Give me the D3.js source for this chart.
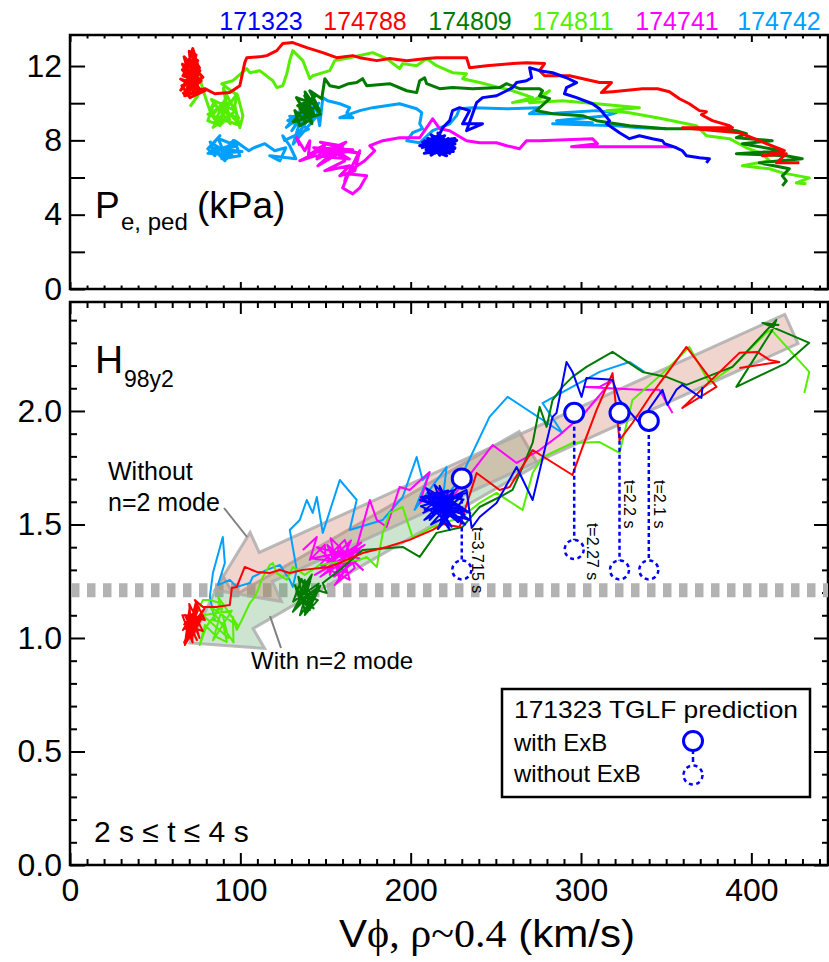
<!DOCTYPE html>
<html><head><meta charset="utf-8">
<script src="https://cdn.jsdelivr.net/npm/d3@7"></script>
<style>body{margin:0;background:#fff}svg{display:block}</style>
</head><body><svg id="c" width="829" height="962"></svg>
<script>
// ---------------- DATA ----------------
const shots = ["171323","174788","174809","174811","174741","174742"];

// top panel: Pe,ped (kPa) vs V_phi (km/s)
const pe171323 = [[206,7.6],[224,8.0],[208,7.3],[222,7.5],[210,8.1],[226,7.8],[207,7.9],[220,7.2],[212,8.3],[225,7.4],[209,7.5],[219,8.2],[214,7.3],[227,8.0],[211,7.7],[223,7.3],[213,8.0],[218,7.4],[216,8.4],[221,7.9],[208,7.8],[224,7.6],[215,7.6],[210,7.4],[222,8.1],[217,7.2],[212,7.9],[226,7.6],[214,8.2],[219,7.6],[217.0,7.44],[208.2,7.98],[222.9,7.71],[211.1,7.33],[219.9,8.25],[205.3,7.71],[225.8,7.55],[214.1,8.09],[221.1,7.17],[210.0,7.55],[224.0,7.98],[212,7.2],[226,8.1],[209,7.9],[220,7.3],[215,8.2],[223,7.5],[213,7.6],[218.8,8.68],[222.9,9.06],[224.6,9.60],[228.7,9.76],[234.6,9.60],[230.5,8.89],[242.2,8.89],[232.8,8.52],[238.7,10.03],[242.2,10.30],[250.4,10.40],[256.3,10.67],[259.8,10.84],[262.2,11.11],[268.0,11.21],[271.0,11.37],[269.8,11.91],[275.7,11.75],[283.3,11.64],[291.5,11.37],[297.4,11.11],[291.5,10.84],[290.3,10.51],[297.4,10.30],[306.7,9.97],[310.9,9.70],[316.7,9.06],[315.0,8.89],[322.6,8.41],[328.4,8.09],[334.3,8.25],[341.9,8.09],[347.8,7.98],[349.0,7.82],[356.0,7.60],[359.5,7.44],[361.9,7.17],[369.5,7.06],[375.4,7.01],[373.6,6.79]];
const pe174788 = [[66,10.5],[74,11.0],[65,11.3],[77,10.6],[68,12.0],[72,11.1],[66,11.8],[75,12.3],[69,10.8],[78,11.4],[67,12.5],[73,10.4],[70,12.8],[76,11.9],[65,10.7],[71,11.6],[74,12.6],[68,10.5],[77,11.2],[66,12.1],[72,10.9],[79.2,10.67],[70.4,10.30],[65.7,10.94],[73.3,11.21],[66.3,11.48],[71.6,12.29],[68.0,11.75],[72.1,12.94],[75.1,12.02],[70.4,10.67],[76.2,11.75],[67.4,10.40],[79.2,10.78],[85.0,10.51],[93.8,10.57],[99.7,10.94],[102.6,12.18],[103.8,12.45],[112.6,12.51],[115.5,12.56],[121.4,12.83],[124.9,13.21],[130.8,13.26],[139.0,12.99],[148.4,12.72],[156.6,12.45],[166.0,12.56],[170.1,12.45],[180.1,12.29],[187.7,12.40],[197.7,12.29],[209.4,12.40],[215.2,12.45],[232.8,12.45],[234.6,11.91],[244.6,12.02],[259.8,12.13],[268.0,12.18],[278.6,12.13],[275.7,11.75],[278.6,11.48],[293.3,11.48],[310.9,11.11],[317.9,11.11],[312.0,10.57],[318.5,10.62],[336.1,10.78],[344.9,10.78],[351.9,10.62],[357.8,10.24],[363.6,9.97],[369.5,9.60],[373.6,9.54],[370.7,9.38],[377.1,9.06],[387.1,8.79],[388.9,8.68],[359.5,8.68],[393.0,8.41],[404.7,7.98],[419.4,7.44],[406.5,7.17],[420.5,7.28],[414.7,6.79],[428.2,6.79]];
const pe174809 = [[136,9.2],[145,9.9],[133,10.3],[142,8.9],[138,10.6],[147,9.4],[131,9.0],[144,10.4],[135,9.7],[141,9.1],[134.9,8.79],[132.0,9.60],[137.8,9.06],[140.8,10.13],[133.7,9.87],[143.7,9.33],[137.8,10.40],[146.6,9.60],[140.8,10.67],[147.8,10.24],[149.6,11.32],[152.5,10.94],[157.8,10.84],[163.6,11.05],[168.3,11.11],[171.8,11.32],[174.2,10.94],[187.7,11.05],[197.7,10.67],[203.5,10.57],[205.3,11.21],[208.2,11.37],[209.4,11.05],[217.0,10.78],[224.6,10.84],[236.4,10.78],[252.2,10.84],[256.3,11.05],[263.9,10.78],[275.7,10.78],[277.4,10.67],[275.7,10.40],[281.5,10.24],[273.9,9.60],[283.3,9.43],[300.9,9.33],[309.1,9.06],[328.4,8.79],[350.1,8.63],[375.4,8.63],[391.2,8.52],[397.1,8.36],[391.2,8.14],[412.3,7.98],[394.7,7.82],[418.2,7.44],[391.2,7.28],[420.5,7.17],[429.9,7.01],[404.7,6.79],[422.3,6.47],[418.2,6.09],[420.5,5.82],[418.2,5.55]];
const pe174811 = [[70.4,9.81],[75.1,10.40],[71.6,11.21],[75.1,12.02],[76.2,11.32],[79.2,10.40],[82.1,9.60],[85.0,10.13],[80.9,9.06],[88.0,8.79],[83.3,9.33],[90.9,10.13],[93.8,9.06],[85,9.0],[92,10.4],[88,8.8],[97,9.6],[83,10.2],[94,8.9],[90,10.8],[99,9.2],[86,9.7],[95,10.1],[81,9.4],[100,8.8],[89,9.9],[93,9.3],[84,8.7],[98,10.5],[96.8,9.87],[99.7,8.68],[101.5,9.33],[98.5,10.40],[89.1,11.05],[95.6,11.21],[103.8,11.86],[105.6,11.64],[111.4,11.75],[119.1,11.21],[121.4,10.84],[124.9,10.94],[127.3,11.59],[129.0,12.29],[130.8,12.83],[136.7,12.29],[139.0,11.75],[140.8,11.32],[142.5,11.48],[152.5,11.75],[155.4,12.29],[164.2,12.45],[177.7,12.72],[185.9,12.40],[193.5,11.86],[195.3,12.13],[203.5,12.02],[209.4,12.40],[215.2,12.02],[224.6,11.64],[232.8,11.59],[230.5,11.32],[240.5,11.11],[252.2,10.84],[259.8,10.67],[271.6,10.30],[259.8,10.03],[275.7,10.24],[281.5,10.67],[269.8,10.03],[289.1,10.13],[309.1,9.97],[334.3,9.76],[315.0,9.60],[328.4,9.49],[347.8,9.16],[367.7,8.79],[373.6,8.25],[387.1,8.09],[397.1,7.60],[406.5,7.28],[410.6,6.90],[394.7,6.63],[410.6,6.47],[418.2,6.25],[434.0,5.98],[426.4,5.71],[432.3,5.66]];
const pe174741 = [[134.9,7.71],[133.1,8.14],[137.8,7.44],[140.8,7.98],[140,7.2],[150,7.8],[145,7.0],[158,7.6],[148,7.3],[162,7.9],[152,7.1],[166,7.5],[143,7.6],[156,7.2],[160,7.7],[147,7.9],[170,7.3],[155,7.5],[164,7.0],[143.7,7.17],[134.9,6.90],[146.6,7.44],[152.5,7.01],[145.5,6.63],[155.4,7.44],[161.3,6.90],[149.6,6.36],[164.2,6.63],[158.4,6.09],[167.2,6.36],[170.1,7.44],[161.3,5.82],[162.5,6.20],[174.2,6.09],[170.1,5.44],[166.0,5.12],[160.1,5.44],[164.2,6.36],[173.0,6.90],[178.9,7.44],[176.0,7.71],[183.6,7.98],[193.5,8.14],[197.7,8.14],[205.3,8.14],[212.9,9.16],[217.0,8.63],[222.9,8.52],[232.8,7.98],[240.5,7.87],[250.4,7.87],[256.3,7.71],[263.9,7.55],[268.0,7.98],[275.7,7.98],[306.7,8.09],[309.7,7.82],[294.4,7.66],[316.7,7.66],[353.7,7.66]];
const pe174742 = [[82.1,7.98],[85.0,7.17],[80.9,7.55],[88.0,8.25],[84,7.8],[95,7.2],[81,7.3],[98,7.7],[87,8.1],[92,7.0],[83,7.6],[101,7.4],[89,7.3],[96,8.0],[90.9,6.90],[85.0,7.44],[93.8,7.71],[89.1,7.01],[99.7,7.17],[96.8,7.98],[105.0,7.44],[107.9,7.60],[114.4,7.82],[120.2,7.44],[126.7,7.60],[123.2,6.90],[117.3,7.17],[132.6,7.01],[129.0,7.71],[124.9,8.25],[126,8.0],[140,8.6],[129,9.3],[144,9.2],[131,7.8],[138,9.9],[127,8.7],[146,10.0],[133,8.2],[142,9.5],[134.9,8.79],[127.9,9.06],[137.8,9.60],[130.2,8.52],[140.8,9.87],[133.7,9.33],[143.7,10.13],[146.6,8.79],[148.4,10.30],[151.3,10.13],[158.4,9.97],[164.2,9.76],[162.5,9.49],[166.0,9.22],[158.4,9.22],[170.1,9.60],[177.7,9.76],[193.5,9.97],[203.5,9.70],[206.5,9.49],[205.3,8.89],[207.0,8.63],[201.2,8.41],[197.7,7.98],[205.3,7.87],[212.9,8.52],[222.9,8.89],[227.0,9.33],[228.7,9.70],[236.4,9.76],[256.3,9.70],[275.7,9.76],[269.8,9.43],[281.5,9.43],[289.1,9.49],[309.1,9.60],[320.8,9.49],[315.0,9.33],[285.6,9.06],[306.7,8.95],[283.3,8.89],[320.8,8.79],[334.3,8.68],[350.1,8.63]];

// bottom panel: H98y2 vs V_phi (km/s)
const h171323 = [[207,1.55],[226,1.62],[212,1.50],[230,1.57],[209,1.66],[224,1.49],[215,1.60],[233,1.64],[206,1.58],[221,1.53],[217,1.67],[228,1.51],[211,1.61],[235,1.55],[219,1.63],[213,1.54],[227,1.66],[208,1.52],[223,1.58],[216,1.48],[231,1.61],[210,1.64],[225,1.55],[214,1.57],[229,1.63],[218,1.51],[222,1.65],[206,1.62],[232,1.50],[220,1.59],[211.1,1.520],[219.9,1.630],[208.2,1.564],[228.7,1.586],[217.0,1.498],[225.8,1.652],[205.3,1.608],[231.7,1.542],[214.1,1.674],[222.9,1.476],[210.0,1.617],[229.9,1.621],[218.2,1.555],[234.6,1.520],[212.3,1.639],[227.6,1.511],[221.1,1.608],[232.8,1.652],[235.8,1.485],[240.5,1.533],[250.4,1.595],[262.2,1.753],[271.6,1.608],[283.3,1.974],[285.6,1.991],[291.5,2.216],[295.0,2.172],[300.3,2.062],[303.2,2.145],[318.5,2.137],[322.6,2.048],[334.3,1.947],[347.8,2.093],[350.7,2.026],[356.0,2.093],[359.5,2.115],[370.7,2.057],[371.3,2.106]];
const h174788 = [[68,1.00],[75,1.12],[67,1.06],[78,1.03],[70,1.15],[72,0.98],[66,1.10],[77,1.09],[69,1.02],[74,1.16],[71,1.05],[79,1.13],[67,0.98],[73,1.08],[76,1.00],[70,1.12],[68,1.04],[75,1.15],[72,1.01],[78,1.10],[67.4,0.969],[70.4,1.145],[69.2,0.991],[73.3,1.123],[66.3,1.035],[76.2,1.101],[70.4,1.057],[74.5,0.991],[67.4,1.101],[79.2,1.079],[73.3,1.167],[78.0,1.137],[86.2,1.137],[93.8,1.145],[95.0,1.220],[97.9,1.225],[102.6,1.313],[109.7,1.291],[117.3,1.286],[123.2,1.300],[129.0,1.286],[136.7,1.300],[152.5,1.313],[171.8,1.374],[185.9,1.401],[199.4,1.432],[212.9,1.476],[218.8,1.502],[228.7,1.489],[238.7,1.727],[252.2,1.652],[258.1,1.665],[271.6,1.828],[295.0,1.718],[300.9,1.841],[309.1,2.004],[318.5,2.167],[322.6,1.872],[330.2,1.947],[341.9,2.079],[361.9,2.282],[379.5,2.106],[359.5,2.013],[393.0,2.256],[403.5,2.260],[410.6,2.225],[416.4,2.216],[393.0,2.189]];
const h174809 = [[133,1.20],[143,1.13],[136,1.26],[131,1.16],[146,1.24],[138,1.11],[134,1.27],[144,1.17],[139,1.22],[132,1.13],[141,1.25],[137,1.15],[145,1.20],[135,1.10],[142,1.28],[136,1.19],[140,1.12],[147,1.23],[134.9,1.167],[132.0,1.233],[140.8,1.123],[137.8,1.256],[133.7,1.145],[143.7,1.211],[130.8,1.115],[141.9,1.278],[134.9,1.203],[145.5,1.167],[137.8,1.101],[144.9,1.211],[150.7,1.198],[148.4,1.242],[158.4,1.300],[171.8,1.388],[195.3,1.401],[205.3,1.357],[215.2,1.463],[230.5,1.489],[240.5,1.577],[252.2,1.621],[259.8,1.652],[265.7,1.753],[271.6,1.859],[275.7,2.018],[279.8,1.930],[283.3,2.048],[289.1,2.106],[295.0,2.150],[303.2,2.194],[318.5,2.260],[336.1,2.172],[350.1,2.150],[361.9,2.115],[388.9,2.194],[414.7,2.401],[412.3,2.357],[391.2,2.106],[420.5,2.211],[434.0,2.300],[406.5,2.388],[416.4,2.379]];
const h174811 = [[70.4,0.991],[73.3,1.093],[78.0,1.167],[82.1,1.167],[88.0,1.154],[83.9,1.079],[89.7,1.066],[92.1,0.982],[86.2,1.004],[79.2,1.057],[76.2,0.969],[80,1.05],[90,1.15],[84,0.99],[95,1.12],[78,1.10],[93,1.00],[87,1.18],[99,1.05],[82,1.14],[96,0.98],[95.6,1.093],[97.9,1.035],[100.9,1.079],[105.6,1.154],[108.5,1.181],[110.3,1.211],[113.2,1.269],[117.3,1.322],[119.1,1.330],[121.4,1.286],[127.3,1.256],[130.8,1.313],[137.8,1.278],[146.6,1.322],[158.4,1.335],[170.1,1.344],[174.2,1.357],[180.1,1.313],[183.6,1.463],[187.7,1.551],[195.3,1.577],[201.2,1.441],[212.9,1.489],[229.9,1.533],[240.5,1.595],[250.4,1.639],[265.7,1.564],[271.6,1.727],[277.4,1.797],[295.0,1.859],[310.9,1.863],[322.6,1.815],[330.2,2.048],[350.1,2.181],[363.6,2.282],[375.4,2.123],[388.9,2.194],[408.8,2.344],[411.7,2.357],[434.0,2.172],[431.1,2.079]];
const h174741 = [[136.7,1.388],[144.9,1.445],[140.8,1.344],[149.6,1.410],[150,1.36],[162,1.29],[145,1.40],[170,1.35],[155,1.27],[165,1.43],[148,1.31],[160,1.38],[172,1.30],[153,1.44],[158,1.26],[168,1.39],[142,1.35],[163,1.33],[151,1.41],[157,1.30],[166,1.36],[147,1.27],[171,1.42],[154,1.34],[152.5,1.278],[158.4,1.410],[164.2,1.256],[146.6,1.322],[161.3,1.432],[167.2,1.308],[155.4,1.233],[170.1,1.388],[143.7,1.278],[173.0,1.410],[158.4,1.335],[168.3,1.401],[176.0,1.608],[180.1,1.520],[185.9,1.489],[193.5,1.665],[199.4,1.652],[211.1,1.731],[205.3,1.595],[217.0,1.652],[224.6,1.621],[234.6,1.718],[248.1,1.850],[262.2,1.771],[275.7,1.828],[287.4,1.894],[302.1,1.991],[318.5,2.137],[310.9,2.106],[302.1,2.106],[334.3,2.093],[346.0,2.093],[353.7,1.991]];
const h174742 = [[85.0,1.079],[82.1,1.181],[83.9,1.286],[89.7,1.445],[90.9,1.330],[86.8,1.233],[93.8,1.256],[97.9,1.225],[105.6,1.242],[107.3,1.269],[115.5,1.300],[123.2,1.322],[129.0,1.256],[130.8,1.225],[133.1,1.300],[129.0,1.476],[134.9,1.520],[139.0,1.608],[142.5,1.551],[144.9,1.621],[148.4,1.463],[158.4,1.696],[168.3,1.608],[164.2,1.476],[183.6,1.520],[195.3,1.621],[203.5,1.797],[207.0,1.696],[211.1,1.727],[202.3,1.564],[221.1,1.753],[218.8,1.608],[228.7,1.696],[246.3,1.974],[256.9,2.062],[289.1,1.903],[277.4,2.035],[310.9,2.172],[328.4,2.216],[337.2,2.172]];

// TGLF predictions for 171323
const tglfV = [230, 296, 322.6, 339.8];
const tglfWithExB = [1.703, 1.992, 1.992, 1.956];
const tglfNoExB = [1.30, 1.39, 1.30, 1.30];
const tglfTimes = ["t=3.715 s", "t=2.27 s", "t=2.2 s", "t=2.1 s"];
const tglfLabelV = [239.4, 306.7, 328.4, 346.0];
const tglfLabelH = [1.489, 1.507, 1.696, 1.696];

// reference level and trend arrows (data units)
const hRef = 1.21;
const arrowWithout = [[423.5, 2.361], [85.0, 1.211]];   // tail, tip
const arrowWith = [[269.2, 1.837], [70.4, 0.978]];
const xTicksMajor = [0, 100, 200, 300, 400];
const yTopTicks = [0, 4, 8, 12];
const yBotTicks = [0, 0.5, 1.0, 1.5, 2.0];

// ---------------- STYLE ----------------
const colors = {"171323":"#0000ff","174788":"#ff0000","174809":"#007a00","174811":"#55ee00","174741":"#ff00ff","174742":"#00a0ff"};
const FONT = "'Liberation Sans', Arial, Helvetica, sans-serif";
const svg = d3.select("#c");

const X = d3.scaleLinear().domain([0,445]).range([70,828]);
const YT = d3.scaleLinear().domain([0,13.67]).range([289,35]);
const YB = d3.scaleLinear().domain([0,2.48]).range([865,302]);

function axis(fn, scale, values, size, transform, fmt, pad){
  const a = fn(scale).tickValues(values).tickSizeInner(-size).tickSizeOuter(0).tickPadding(pad||8).tickFormat(fmt||"");
  const g = svg.append("g").attr("transform", transform).call(a);
  g.select(".domain").remove();
  g.selectAll(".tick line").attr("stroke","#000").attr("stroke-width",2);
  g.selectAll("text").attr("font-size",32).attr("font-family",FONT).attr("fill","#000");
  return g;
}
const xMinor = d3.range(0,445,10).filter(v=>v%100!==0);
const ybMinor = d3.range(0,25).filter(i=>i%5!==0).map(i=>i/10);
const ytMinor = [2,6,10];

// top panel axes
axis(d3.axisBottom, X, xTicksMajor, 7, "translate(0,289)");
axis(d3.axisBottom, X, xMinor, 3.5, "translate(0,289)");
axis(d3.axisTop, X, xTicksMajor, 7, "translate(0,35)");
axis(d3.axisTop, X, xMinor, 3.5, "translate(0,35)");
axis(d3.axisLeft, YT, yTopTicks, 15, "translate(70,0)", d3.format("d"), 8);
axis(d3.axisLeft, YT, ytMinor, 15, "translate(70,0)");
axis(d3.axisRight, YT, yTopTicks.concat(ytMinor), 14, "translate(828,0)");
// bottom panel axes
axis(d3.axisBottom, X, xTicksMajor, 12, "translate(0,865)", d3.format("d"), 13);
axis(d3.axisBottom, X, xMinor, 6, "translate(0,865)");
axis(d3.axisTop, X, xTicksMajor, 12, "translate(0,302)");
axis(d3.axisTop, X, xMinor, 6, "translate(0,302)");
axis(d3.axisLeft, YB, yBotTicks, 15, "translate(70,0)", d3.format(".1f"), 8);
axis(d3.axisLeft, YB, ybMinor, 7, "translate(70,0)");
axis(d3.axisRight, YB, yBotTicks, 14, "translate(828,0)");
axis(d3.axisRight, YB, ybMinor, 6, "translate(828,0)");

// frames
svg.append("rect").attr("x",X(0)).attr("y",YT(13.67)).attr("width",X(445)-X(0)).attr("height",YT(0)-YT(13.67)).attr("fill","none").attr("stroke","#000").attr("stroke-width",2.5);
svg.append("rect").attr("x",X(0)).attr("y",YB(2.48)).attr("width",X(445)-X(0)).attr("height",YB(0)-YB(2.48)).attr("fill","none").attr("stroke","#000").attr("stroke-width",2.5);

const topData = {"171323":pe171323,"174788":pe174788,"174809":pe174809,"174811":pe174811,"174741":pe174741,"174742":pe174742};
const botData = {"171323":h171323,"174788":h174788,"174809":h174809,"174811":h174811,"174741":h174741,"174742":h174742};
const lineT = d3.line().x(d=>X(d[0])).y(d=>YT(d[1]));
const lineB = d3.line().x(d=>X(d[0])).y(d=>YB(d[1]));
const drawOrder = ["174742","174741","174811","174809","174788","171323"];
drawOrder.forEach(s=>{
  svg.append("path").attr("d",lineT(topData[s])).attr("fill","none").attr("stroke",colors[s]).attr("stroke-width",3).attr("stroke-linejoin","round");
});

// bottom: reference dashed line
svg.append("line").attr("x1",X(0)+1).attr("x2",X(445)).attr("y1",YB(hRef)).attr("y2",YB(hRef))
  .attr("stroke","#b3b3b3").attr("stroke-width",14).attr("stroke-dasharray","8.5,7.5");

// arrows
function arrowPath(t,h,sw,hl,hw){
  const x0=X(t[0]), y0=YB(t[1]), x1=X(h[0]), y1=YB(h[1]);
  const dx=x1-x0, dy=y1-y0, L=Math.hypot(dx,dy), ux=dx/L, uy=dy/L, nx=-uy, ny=ux;
  const bx=x1-ux*hl, by=y1-uy*hl;
  const p=[[x0+nx*sw,y0+ny*sw],[bx+nx*sw,by+ny*sw],[bx+nx*hw,by+ny*hw],[x1,y1],[bx-nx*hw,by-ny*hw],[bx-nx*sw,by-ny*sw],[x0-nx*sw,y0-ny*sw]];
  return "M"+p.map(q=>q[0].toFixed(1)+","+q[1].toFixed(1)).join("L")+"Z";
}
svg.append("path").attr("d",arrowPath(arrowWith[0],arrowWith[1],19,62,42))
  .attr("fill","rgba(90,165,100,0.30)").attr("stroke","rgba(170,170,170,0.8)").attr("stroke-width",3);
svg.append("path").attr("d",arrowPath(arrowWithout[0],arrowWithout[1],16,56,38))
  .attr("fill","rgba(205,115,95,0.30)").attr("stroke","rgba(170,170,170,0.8)").attr("stroke-width",3);

drawOrder.forEach(s=>{
  svg.append("path").attr("d",lineB(botData[s])).attr("fill","none").attr("stroke",colors[s]).attr("stroke-width",2).attr("stroke-linejoin","round");
});

// TGLF markers
tglfV.forEach((v,i)=>{
  svg.append("line").attr("x1",X(v)).attr("x2",X(v)).attr("y1",YB(tglfWithExB[i])).attr("y2",YB(tglfNoExB[i]))
    .attr("stroke","#0000ff").attr("stroke-width",2.5).attr("stroke-dasharray","4,3");
  svg.append("circle").attr("cx",X(v)).attr("cy",YB(tglfNoExB[i])).attr("r",9.5)
    .attr("fill","#fff").attr("stroke","#0000ff").attr("stroke-width",2.5).attr("stroke-dasharray","4,3.5");
  svg.append("circle").attr("cx",X(v)).attr("cy",YB(tglfWithExB[i])).attr("r",9.5)
    .attr("fill","#fff").attr("stroke","#0000ff").attr("stroke-width",3);
  svg.append("text").attr("transform",`translate(${X(tglfLabelV[i])},${YB(tglfLabelH[i])}) rotate(90)`)
    .attr("dominant-baseline","central").attr("font-family",FONT).attr("font-size",16).text(tglfTimes[i]);
});

// annotations
function txt(x,y,s,size,opts){
  const t=svg.append("text").attr("x",x).attr("y",y).attr("font-family",(opts&&opts.font)||FONT).attr("font-size",size).attr("fill",(opts&&opts.fill)||"#000").text(s);
  if(opts&&opts.anchor) t.attr("text-anchor",opts.anchor);
  return t;
}
const legX = [261, 365, 470, 573, 677, 779];
shots.forEach((s,i)=>txt(legX[i],30,s,25,{anchor:"middle",fill:colors[s]}));

txt(95,218,"P",37);
txt(121,230,"e, ped",24);
txt(197,218,"(kPa)",37);
txt(95,373,"H",39);
txt(124,387,"98y2",23);

txt(108,480,"Without",25);
txt(108,511,"n=2 mode",25);
txt(251,669,"With n=2 mode",24);
svg.append("line").attr("x1",224).attr("y1",508).attr("x2",247).attr("y2",537).attr("stroke","#808080").attr("stroke-width",2);
svg.append("line").attr("x1",281).attr("y1",648).attr("x2",270).attr("y2",616).attr("stroke","#808080").attr("stroke-width",2);

txt(94,842,"2 s \u2264 t \u2264 4 s",30);

// TGLF legend
svg.append("rect").attr("x",502).attr("y",689).attr("width",308).attr("height",108).attr("fill","#fff").attr("stroke","#000").attr("stroke-width",2.5);
txt(514,718,"171323 TGLF prediction",24).attr("textLength",284).attr("lengthAdjust","spacingAndGlyphs");
txt(514,751,"with ExB",24);
txt(514,782,"without ExB",24);
svg.append("line").attr("x1",693).attr("x2",693).attr("y1",741).attr("y2",765).attr("stroke","#0000ff").attr("stroke-width",2.5).attr("stroke-dasharray","5,3");
svg.append("circle").attr("cx",693).attr("cy",741).attr("r",9.5).attr("fill","#fff").attr("stroke","#0000ff").attr("stroke-width",3);
svg.append("circle").attr("cx",693).attr("cy",775).attr("r",9.5).attr("fill","#fff").attr("stroke","#0000ff").attr("stroke-width",2.5).attr("stroke-dasharray","4,3.5");

// x-axis title
const xt = svg.append("text").attr("x",339).attr("y",947).attr("font-family",FONT).attr("font-size",39)
  .attr("textLength",296).attr("lengthAdjust","spacingAndGlyphs");
xt.append("tspan").text("V");
xt.append("tspan").attr("font-family","'Liberation Serif','DejaVu Serif',serif").text("\u03d5, \u03c1~0.4");
xt.append("tspan").text(" (km/s)");
</script></body></html>
